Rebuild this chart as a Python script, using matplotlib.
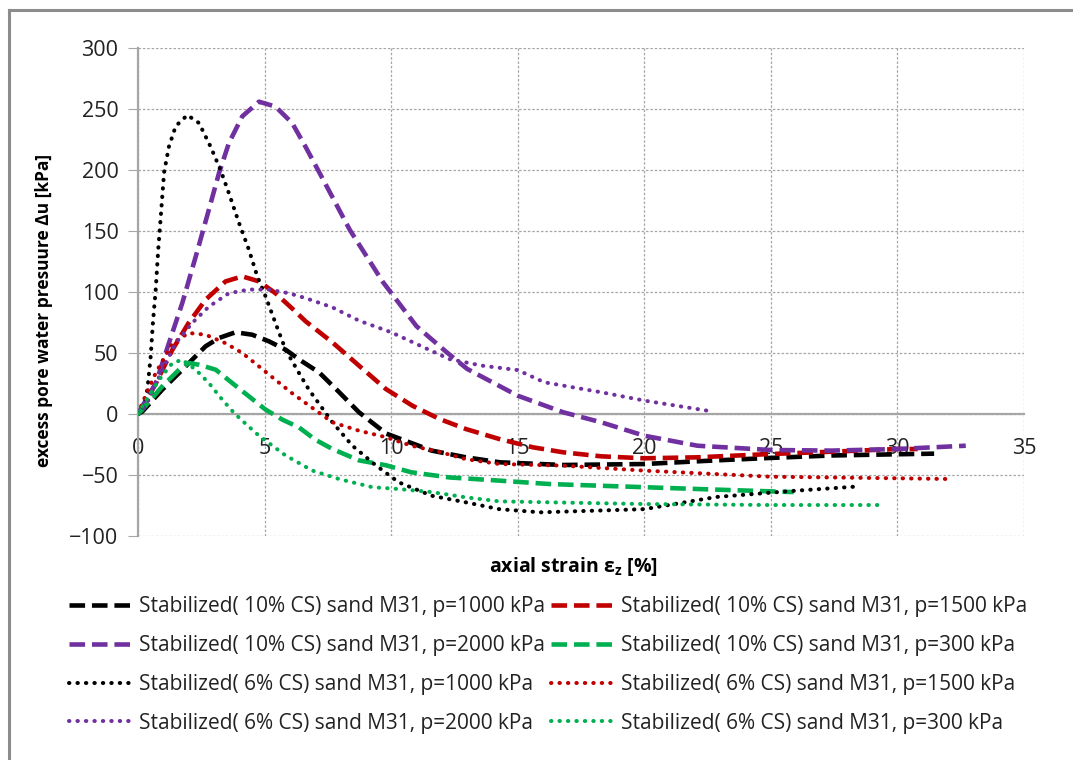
import matplotlib
matplotlib.use("Agg")
import matplotlib.pyplot as plt
from matplotlib.lines import Line2D

plt.rcParams['font.family'] = ['Open Sans', 'DejaVu Sans']

# axial strain [%] and excess pore water pressure [kPa] for each test
s10_1000_x = [0, 0.17, 0.96, 1.62, 2.14, 2.67, 3.2, 3.85, 4.51, 5.17, 5.83, 6.49, 7.16, 7.94,
              8.73, 9.8, 10.7, 11.6, 12.95, 14.3, 16.8, 20, 22.85, 25, 27.4, 30, 31.45]
s10_1000_y = [0, 2, 20, 33.6, 44.5, 55.5, 62.3, 67, 65, 59.6, 52.7, 43, 34, 18,
              1.4, -16, -23, -30, -35.5, -39.6, -41.8, -41, -38, -36, -34, -33, -32.5]

s10_1500_x = [0, 0.17, 0.7, 1.36, 2.0, 2.67, 3.46, 4.12, 4.78, 5.43, 6.09, 6.62, 7.68, 8.73,
              9.79, 10.84, 11.9, 12.95, 14.27, 15.6, 16.8, 18.3, 20, 22.1, 25, 27.4, 30, 30.8]
s10_1500_y = [0, 5, 25, 52.7, 74.6, 93.7, 108.7, 112.8, 108.7, 99, 86.5, 76, 58.7, 39.6,
              20.5, 6.8, -4, -12.3, -20.5, -27.3, -31.4, -34.7, -36.3, -35.5, -32.8, -30.9,
              -28.7, -28.7]

s10_2000_x = [0, 0.17, 0.7, 1.22, 1.75, 2.28, 2.8, 3.2, 3.59, 4.12, 4.78, 5.43, 6.09, 6.62,
              7.18, 8.37, 9.68, 11.0, 12.2, 13.0, 15.0, 16.8, 18.3, 20, 22.1, 25, 27.4, 30, 32.7]
s10_2000_y = [0, 6.3, 25, 58, 91, 129, 167.5, 197.5, 222, 244, 256, 252, 238.5, 219,
              197.3, 150.8, 108, 72, 50.5, 37, 15, 1.4, -6.8, -17.8, -26, -29.5, -30, -28.7, -26]

s10_300_x = [0, 0.17, 0.96, 1.62, 2.0, 2.41, 3.07, 3.72, 4.38, 5.04, 5.7, 6.36, 7.0, 7.68,
             8.73, 9.79, 10.8, 12.3, 14.27, 16.25, 20, 22.85, 25.9]
s10_300_y = [0, 3.6, 22.7, 36.3, 41.8, 40.4, 36.3, 25.4, 14.5, 3.6, -4.6, -11, -21, -28.7,
             -38, -42, -47.8, -52, -54.6, -57.4, -60, -62, -64]

s6_1000_x = [0, 0.17, 0.37, 0.5, 0.59, 0.7, 0.8, 0.9, 1.03, 1.22, 1.49, 1.95, 2.41, 2.87,
             3.26, 3.59, 3.99, 4.38, 4.71, 5.04, 5.43, 5.83, 6.36, 6.75, 7.68, 8.47, 9.39,
             10.3, 11.6, 12.95, 14.27, 15.9, 20, 22.85, 25.9, 28.3]
s6_1000_y = [0, 3.6, 20, 47, 75, 102, 135, 162, 198, 219, 236, 245, 238.5, 219,
             200, 181, 156.6, 134.7, 113, 96.4, 74.6, 52.7, 33.6, 20, -6.8, -26, -42,
             -56, -67, -72.4, -78, -80.6, -78, -68, -63, -59.6]

s6_1500_x = [0, 0.17, 0.7, 1.36, 2.0, 2.67, 3.46, 4.12, 4.78, 5.43, 6.09, 6.62, 7.68, 8.73,
             9.79, 10.8, 11.9, 12.95, 14.27, 16.8, 20, 25, 30, 32.05]
s6_1500_y = [0, 9, 33.6, 58, 66.4, 65, 58, 50, 39, 28, 17, 9, -6.8, -13.7,
             -19, -26, -31, -37, -41, -42.3, -46.4, -51.4, -52.7, -53.3]

s6_2000_x = [0, 0.3, 0.96, 1.49, 2.14, 2.8, 3.59, 4.38, 5.17, 5.96, 6.62, 7.68, 8.73, 10,
             11, 12.3, 13.6, 15.0, 16.05, 18.3, 20, 22.5]
s6_2000_y = [0, 6.3, 36, 58, 74.6, 88, 99, 102, 102, 99, 95, 87.4, 76.5, 67,
             57.4, 45, 39.6, 36, 26, 17.8, 11, 2.7]

s6_300_x = [0, 0.17, 0.83, 1.36, 1.75, 2.28, 2.8, 3.33, 3.79, 4.25, 4.78, 5.83, 6.89, 7.94,
            9.26, 10.3, 11.6, 12.95, 14.27, 16.25, 20, 25, 29.5]
s6_300_y = [0, 6.3, 28, 41.8, 44.5, 36.3, 25.4, 11.7, 1, -8, -17.8, -34, -46.4, -53.3,
            -60, -61.5, -64, -68.3, -71.6, -72.4, -73.8, -74.6, -74.6]

labels = [
    "Stabilized( 10% CS) sand M31, p=1000 kPa",
    "Stabilized( 10% CS) sand M31, p=1500 kPa",
    "Stabilized( 10% CS) sand M31, p=2000 kPa",
    "Stabilized( 10% CS) sand M31, p=300 kPa",
    "Stabilized( 6% CS) sand M31, p=1000 kPa",
    "Stabilized( 6% CS) sand M31, p=1500 kPa",
    "Stabilized( 6% CS) sand M31, p=2000 kPa",
    "Stabilized( 6% CS) sand M31, p=300 kPa",
]

x_ticks = [0, 5, 10, 15, 20, 25, 30, 35]
y_ticks = [-100, -50, 0, 50, 100, 150, 200, 250, 300]

BLACK, RED, PURPLE, GREEN = "#000000", "#C00000", "#7030A0", "#00B050"

series = [
    (s10_1000_x, s10_1000_y, BLACK, "dash"),
    (s10_1500_x, s10_1500_y, RED, "dash"),
    (s10_2000_x, s10_2000_y, PURPLE, "dash"),
    (s10_300_x, s10_300_y, GREEN, "dash"),
    (s6_1000_x, s6_1000_y, BLACK, "dot"),
    (s6_1500_x, s6_1500_y, RED, "dot"),
    (s6_2000_x, s6_2000_y, PURPLE, "dot"),
    (s6_300_x, s6_300_y, GREEN, "dot"),
]

DASH = dict(lw=3.3, dashes=(3.4, 1.5), dash_capstyle='butt')
DOT = dict(lw=2.9, linestyle=(0, (0.1, 2.0)), dash_capstyle='round')

fig = plt.figure(figsize=(10.73, 7.60), dpi=100)
ax = fig.add_axes([138 / 1073, 1 - 536 / 760, (1024 - 138) / 1073, (536 - 48) / 760])

handles = []
for (xs, ys, col, kind), lab in zip(series, labels):
    style = DASH if kind == "dash" else DOT
    ax.plot(xs, ys, color=col, solid_joinstyle='round', zorder=3, **style)
    handles.append(Line2D([], [], color=col, **style))

ax.set_xlim(0, 35)
ax.set_ylim(-100, 300)
ax.set_xticks(x_ticks)
ax.set_yticks(y_ticks)
ax.grid(True, color="#A6A6A6", linestyle=(0, (2, 1.5)), linewidth=0.9, zorder=0)

for side in ("top", "right"):
    ax.spines[side].set_visible(False)
ax.spines["left"].set_color("#A6A6A6")
ax.spines["left"].set_linewidth(1.6)
ax.spines["bottom"].set_position(("data", 0))
ax.spines["bottom"].set_color("#A6A6A6")
ax.spines["bottom"].set_linewidth(1.6)
ax.tick_params(axis="y", length=7, color="#A6A6A6", labelsize=15.5, pad=7, labelcolor="#222222")
ax.tick_params(axis="x", length=0, labelsize=15.5, pad=17, labelcolor="#222222")

ax.set_ylabel("excess pore water presuure Δu [kPa]", fontsize=12.5, fontweight="bold")
ax.yaxis.set_label_coords((53 - 138) / 886, (536 - 310) / 488)
fig.text(573 / 1073, 1 - 567 / 760, "axial strain ε$\\mathregular{_z}$ [%]",
         fontsize=14, fontweight="bold", ha="center", va="center")

# row-major ordering for the two-column legend
order = [0, 2, 4, 6, 1, 3, 5, 7]
leg = fig.legend([handles[i] for i in order], [labels[i] for i in order], ncol=2,
                 loc="upper left", bbox_to_anchor=(69 / 1073, 1 - 596 / 760), frameon=False,
                 fontsize=15, handlelength=3.2, handletextpad=0.15, columnspacing=0.3,
                 labelspacing=0.86, borderpad=0, borderaxespad=0)
for txt in leg.get_texts():
    txt.set_color("#222222")

# outer chart frame
fig.add_artist(Line2D([9 / 1073, 9 / 1073], [0, 1 - 10 / 760], color="#8C8C8C", lw=2.2,
                      transform=fig.transFigure))
fig.add_artist(Line2D([9 / 1073, 1], [1 - 10 / 760, 1 - 10 / 760], color="#8C8C8C", lw=2.2,
                      transform=fig.transFigure))

fig.savefig("out.png", dpi=100)
